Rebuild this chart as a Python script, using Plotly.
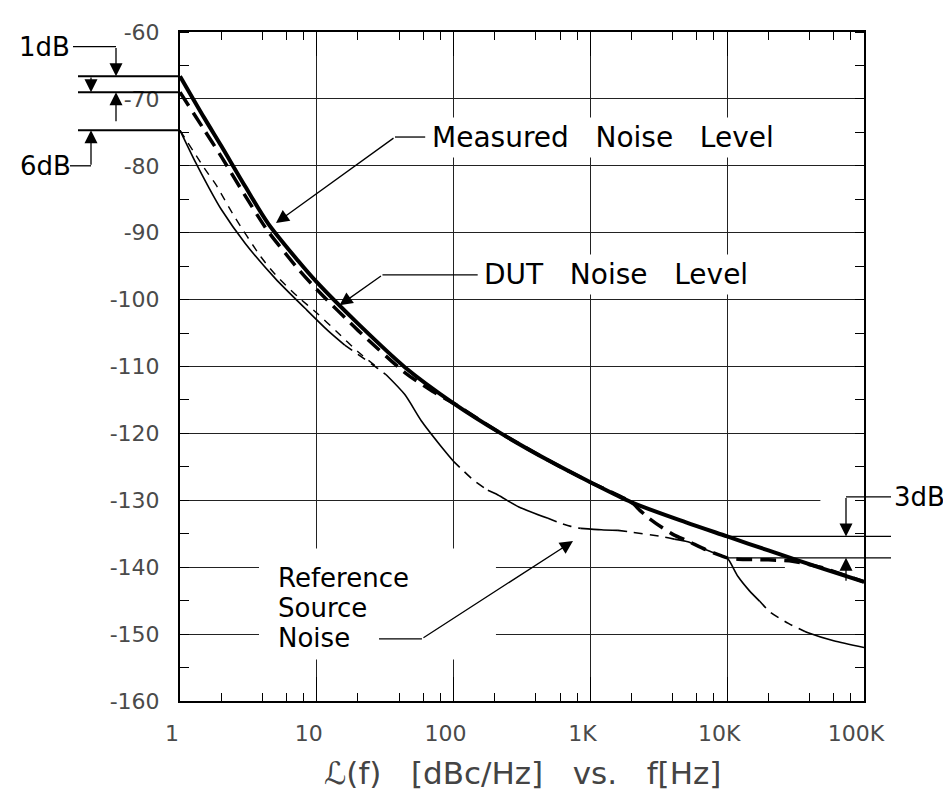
import numpy as np
import plotly.graph_objects as go

# measured (DUT + reference) noise, thick solid
meas_freq = [1, 1.5, 2, 3, 4.4, 7.3, 10, 20, 44, 100, 222, 500, 1000, 2000, 5000, 10000,
             20000, 50000, 100000]
meas_level = [-66.6, -72.8, -77.0, -83.1, -88.6, -94.2, -97.4, -103.6, -110.1, -115.5, -120.0,
              -124.1, -127.3, -130.3, -133.3, -135.4, -137.5, -140.2, -142.2]

# DUT noise, thick dashed
dut_freq = [1, 1.5, 2, 3, 4.4, 7.3, 10, 20, 44, 70, 100, 222, 500, 1000, 2000, 2300, 2650,
            3300, 4100, 5150, 7000, 9100, 10000, 12000, 20000, 30000, 48000, 100000]
dut_level = [-69.0, -74.6, -78.6, -84.5, -89.8, -95.4, -98.5, -104.6, -110.9, -113.7, -115.5,
             -120.0, -124.1, -127.3, -130.3, -131.5, -132.6, -134.0, -135.2, -136.1, -137.4,
             -138.3, -138.6, -138.8, -138.9, -139.1, -140.0, -142.2]

# reference source noise, thin line drawn partly solid / partly dashed
ref_freq = [1, 1.3, 1.6, 2, 3, 5, 8.2, 12, 16, 20, 28, 32, 44, 58, 80, 99, 114, 140, 178, 211,
            300, 490, 580, 720, 850, 1200, 1590, 1900, 3300, 4100, 5150, 7000, 9100, 10000,
            12000, 14500, 17300, 20600, 28000, 37000, 39000, 60000, 100000]
ref_level = [-74.7, -79.5, -83.0, -86.5, -91.6, -96.9, -101.3, -104.6, -106.8, -108.2, -110.3,
             -111.2, -114.2, -118.1, -121.8, -124.1, -125.3, -127.0, -128.5, -129.2, -131.0,
             -132.7, -133.3, -133.9, -134.2, -134.4, -134.5, -134.7, -135.4, -135.8, -136.2,
             -137.4, -138.3, -138.6, -141.4, -143.5, -145.1, -146.7, -148.4, -149.6, -149.8,
             -151.0, -152.0]
# 1 = segment (i -> i+1) drawn dashed
ref_dashed = [0, 0, 0, 0, 0, 0, 0, 0, 1, 1, 1, 0, 0, 0, 0, 1, 1, 1, 0, 0, 0, 1, 1, 1, 0, 0, 1,
              1, 1, 0, 0, 0, 0, 0, 0, 0, 1, 1, 1, 0, 0, 0]

# second thin dashed branch at low offsets
branch_freq = [1, 1.5, 1.84, 2.5, 3.9, 5.0, 7.3, 10, 14, 20, 28]
branch_level = [-74.7, -80.3, -82.9, -87.6, -93.6, -96.3, -99.6, -102.0, -104.8, -107.8, -110.2]

x_tick_vals = [1, 10, 100, 1000, 10000, 100000]
x_tick_text = ['1', '10', '100', '1K', '10K', '100K']
x_minor_vals = [m * d for d in [1, 10, 100, 1000, 10000] for m in [2, 4, 6, 8]]
y_tick_vals = list(range(-160, -50, 10))
y_tick_text = ['-' + str(-v) for v in y_tick_vals]

W, H = 951, 806
L, R, T, B = 172, 95, 17, 113
plot_w = W - L - R
plot_h = H - T - B
y_min, y_max = -160, -60
px_db = plot_h / (y_max - y_min)


def xp(real_x):
    return (real_x - L) / plot_w


def yp(db):
    return (db - y_min) / (y_max - y_min)


def runs(flag):
    xs, ys = [], []
    prev = False
    for i, d in enumerate(ref_dashed):
        if d == flag:
            if not prev:
                if xs:
                    xs.append(None)
                    ys.append(None)
                xs.append(ref_freq[i])
                ys.append(ref_level[i])
            xs.append(ref_freq[i + 1])
            ys.append(ref_level[i + 1])
            prev = True
        else:
            prev = False
    return xs, ys


fig = go.Figure()

sx, sy = runs(0)
fig.add_trace(go.Scatter(x=sx, y=sy, mode='lines',
                         line=dict(color='black', width=1.6, shape='spline', smoothing=0.7)))
dx, dy = runs(1)
fig.add_trace(go.Scatter(x=dx, y=dy, mode='lines',
                         line=dict(color='black', width=1.6, dash='9px,7px', shape='spline',
                                   smoothing=0.7)))
fig.add_trace(go.Scatter(x=branch_freq, y=branch_level, mode='lines',
                         line=dict(color='black', width=1.4, dash='8px,7px', shape='spline',
                                   smoothing=0.7)))
fig.add_trace(go.Scatter(x=dut_freq, y=dut_level, mode='lines',
                         line=dict(color='black', width=3.5, dash='16px,8px', shape='spline',
                                   smoothing=0.6)))
fig.add_trace(go.Scatter(x=meas_freq, y=meas_level, mode='lines',
                         line=dict(color='black', width=4, shape='spline', smoothing=0.8)))

shapes = []
# erase grid where the drawing leaves it open
for x0, x1, y0, y1 in [(3.78, 204, -153.8, -137.2), (48000, 100000, -129.0, -131.0),
                       (26400, 100000, -139.4, -140.6)]:
    shapes.append(dict(type='rect', xref='x', yref='y', x0=x0, x1=x1, y0=y0, y1=y1,
                       fillcolor='white', line=dict(width=0), layer='between'))


def hline(x0, x1, y, xref='x', yref='y', w=1.3):
    shapes.append(dict(type='line', xref=xref, yref=yref, x0=x0, x1=x1, y0=y, y1=y,
                       line=dict(color='black', width=w)))


# leaders of the callouts
hline(37.3, 62, -75.7)
hline(30.2, 150, -96.3)
hline(28.5, 58.7, -150.7)

# 1 dB / 6 dB brackets on the left
for lev in [meas_level[0], dut_level[0], ref_level[0]]:
    hline(xp(70), 0, yp(lev), 'paper', 'paper', 2)
hline(xp(65), xp(108), yp(-62.2), 'paper', 'paper')
hline(xp(62), xp(83), yp(-80.0), 'paper', 'paper')

# 3 dB bracket on the right
m10k = meas_level[meas_freq.index(10000)]
d10k = dut_level[dut_freq.index(10000)]
for lev in [m10k, d10k]:
    hline(xp(L + 4 * plot_w / 5), xp(883), yp(lev), 'paper', 'paper')
hline(xp(838), xp(883), yp(-129.5), 'paper', 'paper')

anns = []
txt = dict(family='DejaVu Sans, sans-serif', size=28, color='black')


def label(text, x, y, xref='x', yref='y', xanchor='left', bg=True, font=txt):
    anns.append(dict(text=text, x=x, y=y, xref=xref, yref=yref, xanchor=xanchor,
                     yanchor='middle', showarrow=False, font=font,
                     bgcolor='white' if bg else None, borderpad=3 if bg else 0))


def arrow(x, y, ax, ay):
    anns.append(dict(text='', x=x, y=y, ax=ax, ay=ay, xref='x', yref='y', axref='x',
                     ayref='y', showarrow=True, arrowhead=2, arrowsize=2.0, arrowwidth=1.3,
                     arrowcolor='black', standoff=0))


sp = '\u00a0' * 3
label('Measured' + sp + 'Noise' + sp + 'Level', np.log10(65), -75.7)
label('DUT' + sp + 'Noise' + sp + 'Level', np.log10(156), -96.2)
ref_font = dict(family='DejaVu Sans, sans-serif', size=26, color='black')
for t, yy in zip(['Reference', 'Source', 'Noise'], [-141.6, -146.1, -150.6]):
    label(t, 0.71, yy, bg=False, font=ref_font)

arrow(np.log10(5.03), -88.55, np.log10(37.3), -75.7)
arrow(np.log10(14.66), -100.86, np.log10(30.2), -96.3)
arrow(np.log10(746), -136.1, np.log10(58.7), -150.7)

side = dict(family='DejaVu Sans, sans-serif', size=26, color='black')
label('1dB', xp(36), yp(-62.2), 'paper', 'paper', 'center', False, side)
label('6dB', xp(37), yp(-80.0), 'paper', 'paper', 'center', False, side)
label('3dB', xp(885), yp(-129.5), 'paper', 'paper', 'left', False, side)


def varrow(x, head, tail):
    anns.append(dict(text='', x=x, y=yp(head), xref='paper', yref='paper', ax=0,
                     ay=(head - tail) * px_db, axref='pixel', ayref='pixel', showarrow=True,
                     arrowhead=2, arrowsize=2.0, arrowwidth=1.3, arrowcolor='black',
                     standoff=0))


varrow(xp(108), meas_level[0], -62.2)
varrow(xp(108), dut_level[0], -73.5)
varrow(xp(83), dut_level[0], meas_level[0])
varrow(xp(83), ref_level[0], -80.0)
varrow(xp(838), m10k, -129.5)
varrow(xp(838), d10k, -142.2)

anns.append(dict(text='\u2112(f)\u00a0\u00a0\u00a0[dBc/Hz]\u00a0\u00a0\u00a0vs.\u00a0\u00a0\u00a0f[Hz]',
                 x=0.5, y=(H - B - 786) / plot_h, xref='paper', yref='paper',
                 showarrow=False, font=dict(family='DejaVu Sans, sans-serif', size=31,
                                            color='#444')))

tickfont = dict(family='DejaVu Sans, sans-serif', size=22, color='#4a4a4a')

fig.update_layout(
    width=W, height=H, margin=dict(l=L, r=R, t=T, b=B),
    paper_bgcolor='white', plot_bgcolor='white', showlegend=False,
    shapes=shapes, annotations=anns,
    xaxis=dict(type='log', range=[0, 5], tickvals=x_tick_vals, ticktext=x_tick_text,
               tickfont=tickfont, showgrid=True, gridcolor='#222', gridwidth=1,
               showline=True, linecolor='black', linewidth=2, mirror='allticks',
               ticks='inside', ticklen=24, tickcolor='black', tickwidth=1,
               ticklabelstandoff=12, ticklabelshift=-8, zeroline=False,
               minor=dict(tickvals=x_minor_vals, ticks='inside', ticklen=8,
                          tickcolor='black', showgrid=False)),
    yaxis=dict(range=[y_min, y_max], tickvals=y_tick_vals, ticktext=y_tick_text,
               tickfont=tickfont, showgrid=True, gridcolor='#222', gridwidth=1,
               showline=True, linecolor='black', linewidth=2, mirror='allticks',
               ticks='', ticklabelstandoff=14, zeroline=False,
               minor=dict(dtick=5, ticks='inside', ticklen=9, tickcolor='black',
                          showgrid=False)),
)

fig.write_html('out.html')
